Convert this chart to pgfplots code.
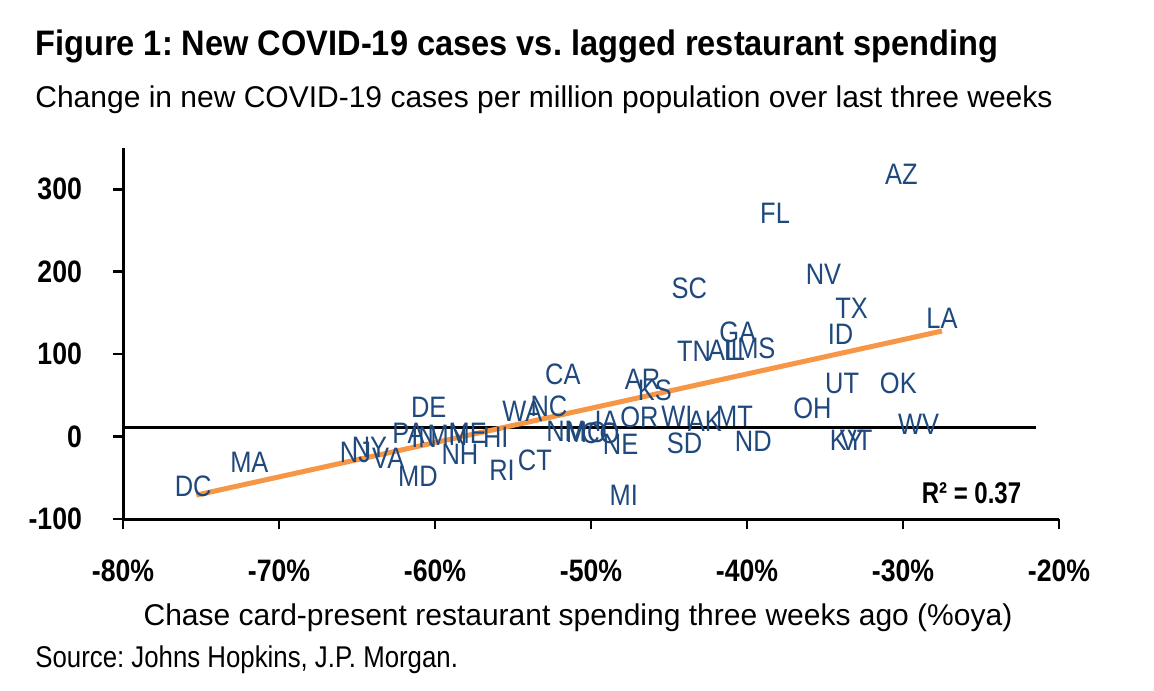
\documentclass[border=0pt]{standalone}
\usepackage{fontspec}
\setmainfont{Liberation Sans}
\newfontfamily\nar{Liberation Sans}[FakeStretch=0.92]
\newfontfamily\narr{Liberation Sans}[FakeStretch=0.86]
\newfontfamily\narrr{Liberation Sans}[FakeStretch=0.8]
\usepackage{pgfplots}
\usepackage{pgfplotstable}
\pgfplotsset{compat=1.18}
\definecolor{lab}{HTML}{1F497D}
\definecolor{org}{HTML}{F79646}
\frenchspacing

\pgfplotstableread{
x y label
-75.5 -60 DC
-71.9 -31 MA
-65.1 -19 NJ
-64.2 -13 NY
-63.0 -27 VA
-61.7 4 PA
-60.7 -1 IN
-60.4 35 DE
-61.1 -48 MD
-59.2 2 MN
-58.4 -22 NH
-57.9 4 ME
-56.1 -1 HI
-55.7 -41 RI
-53.6 -29 CT
-54.4 31 WA
-52.7 37 NC
-51.8 76 CA
-51.6 6 NM
-50.3 5 MO
-49.4 4 CO
-49.0 19 IA
-48.1 -10 NE
-47.9 -71 MI
-46.9 23 OR
-46.7 70 AR
-45.9 56 KS
-44.5 24 WI
-44.0 -8 SD
-43.7 180 SC
-43.4 103 TN
-42.7 18 AK
-41.5 105 AL
-40.8 104 IL
-40.8 25 MT
-40.6 127 GA
-39.4 107 MS
-39.6 -6 ND
-38.2 271 FL
-35.8 34 OH
-35.1 197 NV
-34.0 124 ID
-33.9 65 UT
-33.6 -5 KY
-33.0 -5 VT
-33.3 156 TX
-30.3 65 OK
-30.1 318 AZ
-29.0 15 WV
-27.5 143 LA
}\states

\begin{document}
\begin{tikzpicture}
\path[use as bounding box] (0,0) rectangle (577pt,345pt);
\node[anchor=base west, inner sep=0pt, font=\nar\fontsize{17.7}{20}\selectfont\bfseries] at (17.5pt,317pt) {Figure 1: New COVID-19 cases vs. lagged restaurant spending};
\node[anchor=base west, inner sep=0pt, font=\fontsize{15}{18}\selectfont] at (17.5pt,291pt) {Change in new COVID-19 cases per million population over last three weeks};
\begin{axis}[
  at={(61.5pt,85.5pt)}, anchor=south west,
  scale only axis, width=468pt, height=185.5pt,
  xmin=-80, xmax=-20, ymin=-100, ymax=350,
  axis x line*=bottom, axis y line*=left,
  axis line style={black, line width=1.5pt},
  tick align=outside, major tick length=5pt,
  tick style={black, line width=1.3pt},
  xtick={-80,-70,-60,-50,-40,-30,-20},
  xticklabels={-80\%,-70\%,-60\%,-50\%,-40\%,-30\%,-20\%},
  ytick={-100,0,100,200,300},
  yticklabels={-100,0,100,200,300},
  ticklabel style={font=\narr\fontsize{15.5}{18}\selectfont\bfseries},
  xticklabel style={yshift=-12pt},
  yticklabel style={xshift=-12pt},
  clip=false,
]
\addplot[draw=none, mark=none, nodes near coords, point meta=explicit symbolic,
  nodes near coords style={anchor=center, inner sep=0pt, text=lab, font=\narr\fontsize{14.8}{17}\selectfont}]
  table[x=x, y=y, meta=label] {\states};
\addplot[black, line width=1.2pt] coordinates {(-80,11) (-21.5,11)};
\addplot[org, line width=2.5pt] coordinates {(-75.3,-71) (-27.5,128)};
\node[anchor=east, inner sep=0pt, font=\narrr\fontsize{15}{17}\selectfont\bfseries] at (axis cs:-22.4,-69) {R² = 0.37};
\end{axis}
\node[anchor=base, inner sep=0pt, font=\fontsize{15}{18}\selectfont] at (289pt,32.5pt) {Chase card-present restaurant spending three weeks ago (\%oya)};
\node[anchor=base west, inner sep=0pt, font=\narr\fontsize{15}{17}\selectfont] at (17.5pt,11.5pt) {Source: Johns Hopkins, J.P. Morgan.};
\end{tikzpicture}
\end{document}
